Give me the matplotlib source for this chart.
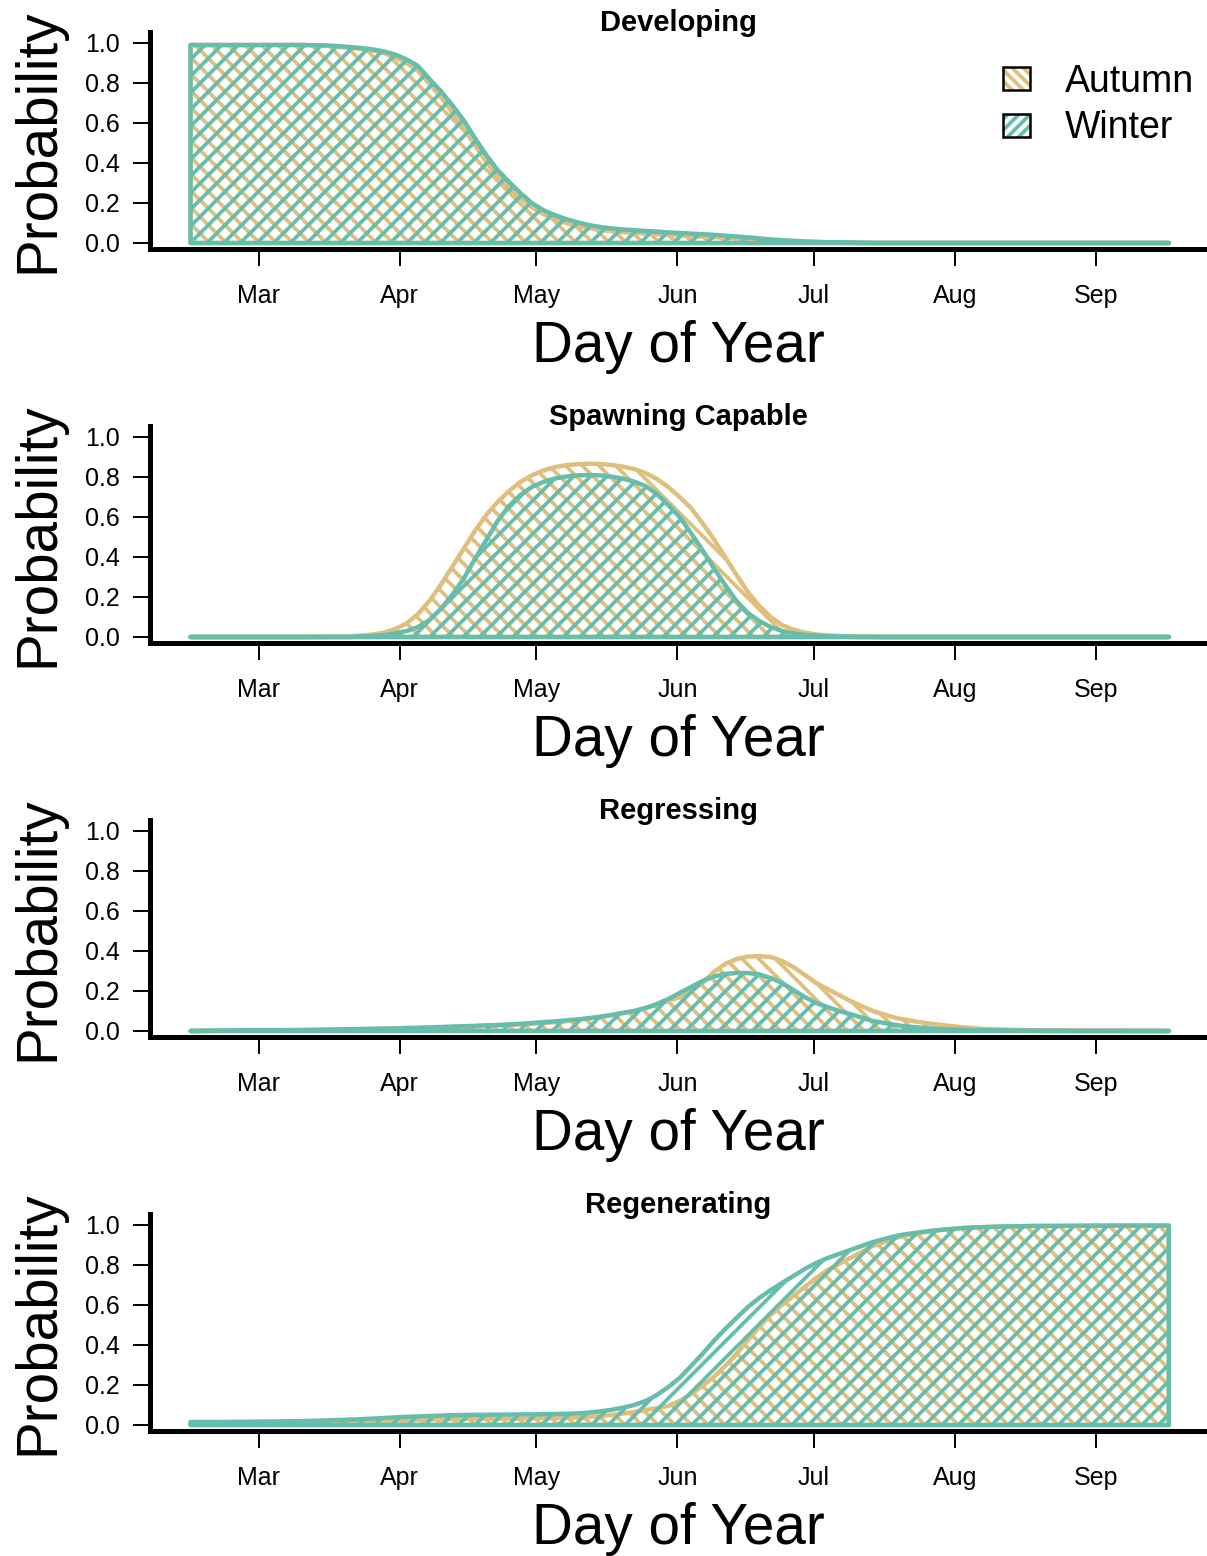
import matplotlib
matplotlib.use('Agg')
import matplotlib.pyplot as plt
from matplotlib.patches import Patch

plt.rcParams['font.family'] = ['Liberation Sans', 'DejaVu Sans']
plt.rcParams['hatch.linewidth'] = 2.7

# day of year grid (denser where the curves bend)
days = [45, 50, 55, 60, 65, 70, 75, 80,
        82.5, 85, 87.5, 90, 92.5, 95, 97.5, 100, 102.5, 105,
        107.5, 110, 112.5, 115, 117.5, 120, 122.5, 125, 127.5, 130,
        132.5, 135, 137.5, 140, 142.5, 145, 147.5, 150, 152.5, 155,
        157.5, 160, 162.5, 165, 167.5, 170, 172.5, 175, 177.5, 180,
        182.5, 185, 187.5, 190, 192.5, 195, 197.5, 200, 202.5, 205,
        207.5, 210, 212.5, 215, 217.5, 220,
        225, 230, 240, 250, 260]

month_days = [60, 91, 121, 152, 182, 213, 244]
month_labels = ['Mar', 'Apr', 'May', 'Jun', 'Jul', 'Aug', 'Sep']
prob_ticks = [0.0, 0.2, 0.4, 0.6, 0.8, 1.0]
prob_labels = ['0.0', '0.2', '0.4', '0.6', '0.8', '1.0']

stages = ['Developing', 'Spawning Capable', 'Regressing', 'Regenerating']
seasons = ['Autumn', 'Winter']

autumn_dev = [0.99, 0.99, 0.99, 0.99, 0.99, 0.99, 0.985, 0.976,
              0.97, 0.962, 0.95, 0.93, 0.9, 0.86, 0.795, 0.73, 0.655, 0.575,
              0.49, 0.405, 0.335, 0.275, 0.225, 0.18, 0.145, 0.12, 0.1, 0.086,
              0.075, 0.066, 0.059, 0.054, 0.05, 0.047, 0.044, 0.041, 0.038, 0.035,
              0.032, 0.029, 0.026, 0.022, 0.019, 0.016, 0.013, 0.01, 0.008, 0.006,
              0.004, 0.003, 0.002, 0.001, 0, 0, 0, 0, 0, 0,
              0, 0, 0, 0, 0, 0,
              0, 0, 0, 0, 0]
winter_dev = [0.99, 0.99, 0.99, 0.99, 0.99, 0.99, 0.988, 0.98,
              0.975, 0.968, 0.958, 0.942, 0.918, 0.885, 0.82, 0.76, 0.69, 0.615,
              0.525, 0.44, 0.365, 0.305, 0.25, 0.20, 0.165, 0.14, 0.12, 0.104,
              0.09, 0.08, 0.073, 0.068, 0.064, 0.06, 0.057, 0.053, 0.05, 0.047,
              0.044, 0.041, 0.037, 0.033, 0.028, 0.023, 0.018, 0.014, 0.011, 0.008,
              0.006, 0.004, 0.003, 0.002, 0.001, 0, 0, 0, 0, 0,
              0, 0, 0, 0, 0, 0,
              0, 0, 0, 0, 0]

autumn_spawn = [0, 0, 0, 0, 0, 0, 0.001, 0.004,
                0.007, 0.012, 0.022, 0.04, 0.068, 0.115, 0.18, 0.26, 0.35, 0.44,
                0.53, 0.61, 0.675, 0.73, 0.775, 0.808, 0.832, 0.849, 0.859, 0.864,
                0.866, 0.865, 0.86, 0.852, 0.84, 0.82, 0.79, 0.75, 0.7, 0.645,
                0.57, 0.49, 0.4, 0.31, 0.225, 0.155, 0.1, 0.06, 0.037, 0.022,
                0.013, 0.008, 0.005, 0.003, 0.002, 0.001, 0, 0, 0, 0,
                0, 0, 0, 0, 0, 0,
                0, 0, 0, 0, 0]
winter_spawn = [0, 0, 0, 0, 0, 0, 0, 0,
                0.002, 0.005, 0.01, 0.018, 0.03, 0.05, 0.085, 0.14, 0.21, 0.29,
                0.39, 0.485, 0.58, 0.655, 0.71, 0.75, 0.775, 0.792, 0.802, 0.808,
                0.81, 0.808, 0.802, 0.792, 0.777, 0.755, 0.715, 0.66, 0.6, 0.52,
                0.435, 0.345, 0.26, 0.18, 0.12, 0.08, 0.05, 0.03, 0.018, 0.011,
                0.007, 0.004, 0.002, 0.001, 0, 0, 0, 0, 0, 0,
                0, 0, 0, 0, 0, 0,
                0, 0, 0, 0, 0]

autumn_regress = [0.0, 0.001, 0.002, 0.003, 0.004, 0.005, 0.006, 0.008,
                  0.009, 0.01, 0.011, 0.012, 0.013, 0.015, 0.016, 0.018, 0.02, 0.022,
                  0.024, 0.026, 0.028, 0.03, 0.033, 0.036, 0.04, 0.044, 0.049, 0.055,
                  0.062, 0.07, 0.079, 0.09, 0.1, 0.115, 0.13, 0.15, 0.17, 0.2,
                  0.24, 0.295, 0.335, 0.36, 0.372, 0.375, 0.37, 0.35, 0.32, 0.28,
                  0.24, 0.21, 0.18, 0.15, 0.125, 0.1, 0.082, 0.065, 0.055, 0.045,
                  0.037, 0.03, 0.024, 0.018, 0.014, 0.01,
                  0.006, 0.004, 0.002, 0.001, 0]
winter_regress = [0.0, 0.001, 0.002, 0.003, 0.004, 0.005, 0.007, 0.009,
                  0.01, 0.011, 0.012, 0.013, 0.015, 0.016, 0.018, 0.02, 0.022, 0.024,
                  0.026, 0.028, 0.03, 0.033, 0.036, 0.04, 0.044, 0.048, 0.053, 0.058,
                  0.064, 0.072, 0.08, 0.09, 0.1, 0.115, 0.135, 0.16, 0.19, 0.22,
                  0.25, 0.272, 0.285, 0.29, 0.29, 0.283, 0.265, 0.24, 0.205, 0.17,
                  0.14, 0.12, 0.1, 0.085, 0.067, 0.05, 0.04, 0.03, 0.022, 0.018,
                  0.013, 0.01, 0.008, 0.006, 0.004, 0.003,
                  0.002, 0.001, 0, 0, 0]

autumn_regen = [0.01, 0.01, 0.01, 0.011, 0.012, 0.013, 0.015, 0.017,
                0.018, 0.02, 0.021, 0.023, 0.024, 0.026, 0.027, 0.028, 0.029, 0.03,
                0.03, 0.031, 0.031, 0.032, 0.032, 0.033, 0.034, 0.035, 0.036, 0.038,
                0.041, 0.045, 0.05, 0.057, 0.065, 0.075, 0.084, 0.095, 0.12, 0.155,
                0.195, 0.24, 0.295, 0.355, 0.425, 0.49, 0.55, 0.6, 0.645, 0.69,
                0.735, 0.775, 0.805, 0.835, 0.865, 0.895, 0.915, 0.935, 0.95, 0.96,
                0.968, 0.975, 0.98, 0.985, 0.988, 0.99,
                0.993, 0.995, 0.996, 0.997, 0.997]
winter_regen = [0.015, 0.015, 0.016, 0.017, 0.018, 0.02, 0.023, 0.027,
                0.029, 0.032, 0.035, 0.038, 0.041, 0.043, 0.045, 0.047, 0.049, 0.05,
                0.051, 0.051, 0.052, 0.052, 0.053, 0.053, 0.054, 0.055, 0.056, 0.058,
                0.062, 0.068, 0.076, 0.086, 0.1, 0.12, 0.15, 0.19, 0.235, 0.295,
                0.355, 0.42, 0.48, 0.535, 0.59, 0.635, 0.675, 0.71, 0.745, 0.78,
                0.81, 0.835, 0.855, 0.875, 0.895, 0.915, 0.93, 0.945, 0.955, 0.963,
                0.97, 0.976, 0.981, 0.985, 0.988, 0.99,
                0.993, 0.995, 0.996, 0.997, 0.997]

autumn = [autumn_dev, autumn_spawn, autumn_regress, autumn_regen]
winter = [winter_dev, winter_spawn, winter_regress, winter_regen]

tan = '#E0BF7E'
teal = '#66BDAB'

DPI = 100
W, H = 1207, 1556
fig = plt.figure(figsize=(W / DPI, H / DPI), dpi=DPI)

for k, (title, aut, win) in enumerate(zip(stages, autumn, winter)):
    bottom_px = 249 + 394 * k
    ax = fig.add_axes([150 / W, 1 - bottom_px / H, 1057 / W, 217 / H])

    fa = ax.fill_between(days, aut, 0, facecolor='none', edgecolor=tan,
                         hatch='\\\\', linewidth=3.2)
    fw = ax.fill_between(days, win, 0, facecolor='none', edgecolor=teal,
                         hatch='//', linewidth=3.2)
    fa.set_joinstyle('round')
    fw.set_joinstyle('round')

    ax.set_xlim(36.1, 268.4)
    ax.set_ylim(-0.03, 1.055)
    for s in ['top', 'right']:
        ax.spines[s].set_visible(False)
    for s in ['left', 'bottom']:
        ax.spines[s].set_linewidth(3.6)

    ax.set_xticks(month_days)
    ax.set_xticklabels(month_labels)
    ax.set_yticks(prob_ticks)
    ax.set_yticklabels(prob_labels)
    ax.tick_params(axis='both', direction='out', length=12, width=1.4,
                   labelsize=18)
    ax.tick_params(axis='x', pad=13)
    ax.tick_params(axis='y', pad=9.6)

    ax.set_title(title, fontsize=21, fontweight='bold', y=1.005, pad=0,
                 va='baseline')
    ax.set_xlabel('Day of Year', fontsize=40.8, va='baseline')
    ax.xaxis.set_label_coords(0.5, -0.521)
    ax.set_ylabel('Probability', fontsize=40.8, va='baseline')
    ax.yaxis.set_label_coords(-0.0918, 0.5)

    if k == 0:
        h_aut = (Patch(facecolor='none', edgecolor=tan, hatch='\\\\\\', linewidth=0),
                 Patch(facecolor='none', edgecolor='black', linewidth=1.8))
        h_win = (Patch(facecolor='none', edgecolor=teal, hatch='///', linewidth=0),
                 Patch(facecolor='none', edgecolor='black', linewidth=1.8))
        ax.legend([h_aut, h_win], seasons, loc='upper left',
                  bbox_to_anchor=(1003 / W, 1 - 64 / H),
                  bbox_transform=fig.transFigure, frameon=False,
                  fontsize=27, handlelength=0.72, handleheight=0.58,
                  handletextpad=0.93, labelspacing=0.28,
                  borderpad=0, borderaxespad=0)

fig.savefig('out.png', dpi=DPI)
